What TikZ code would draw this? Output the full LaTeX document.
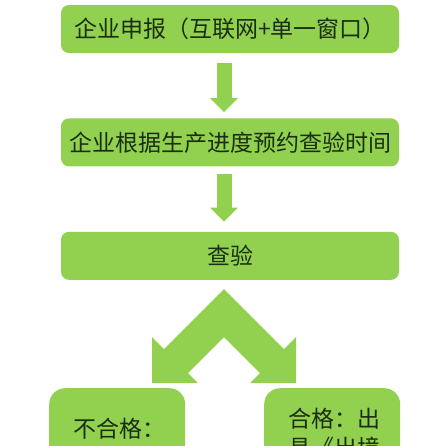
\documentclass[tikz,border=0pt]{standalone}
\usepackage{fontspec}
\setmainfont{Noto Sans CJK SC}
\usepackage{tikz}
\usetikzlibrary{arrows.meta,calc,positioning}
\definecolor{ckgreen}{RGB}{146,208,80}
\definecolor{cktext}{RGB}{26,46,16}

\begin{document}
\begin{tikzpicture}[x=1pt,y=-1pt,font=\fontsize{23}{29}\selectfont,node distance=65pt,
    every node/.style={text=cktext},
    stage/.style={fill=ckgreen,rounded corners=8pt,minimum width=338pt,minimum height=48pt,inner sep=0pt},
    result/.style={fill=ckgreen,rounded corners=16pt,anchor=north west,align=left,inner xsep=24pt,inner ysep=0pt,text width=88pt,text depth=80pt},
    fatarrow/.style={draw=ckgreen,line width=15pt,-{Triangle[width=27pt,length=14pt]}}]
    \path[use as bounding box,clip] (0,0) rectangle (446,445);
    \node[stage] (declare) at (230,29) {企业申报（互联网+单一窗口）};
    \node[stage,below=of declare] (book) {企业根据生产进度预约查验时间};
    \node[stage,below=of book] (inspect) {查验};
    \node[result,text height=49pt] (fail) at (49,388) {不合格：};
    \node[result,text height=39pt] (pass) at (264,388) {合格：出\\具《出境};
    \coordinate (axis) at (224,0);
    \draw[fatarrow,shorten <=10pt,shorten >=6pt] (declare.south -| axis) -- (book.north -| axis);
    \draw[fatarrow,shorten <=7pt,shorten >=10pt] (book.south -| axis) -- (inspect.north -| axis);
    % split towards the two results
    \fill[ckgreen] (224,289) -- (164,349) -- (152,337) -- (152,383) -- (198,383) -- (188,373)
      -- (224,337) -- (260,373) -- (250,383) -- (296,383) -- (296,337) -- (284,349) -- cycle;
  \end{tikzpicture}
\end{document}
